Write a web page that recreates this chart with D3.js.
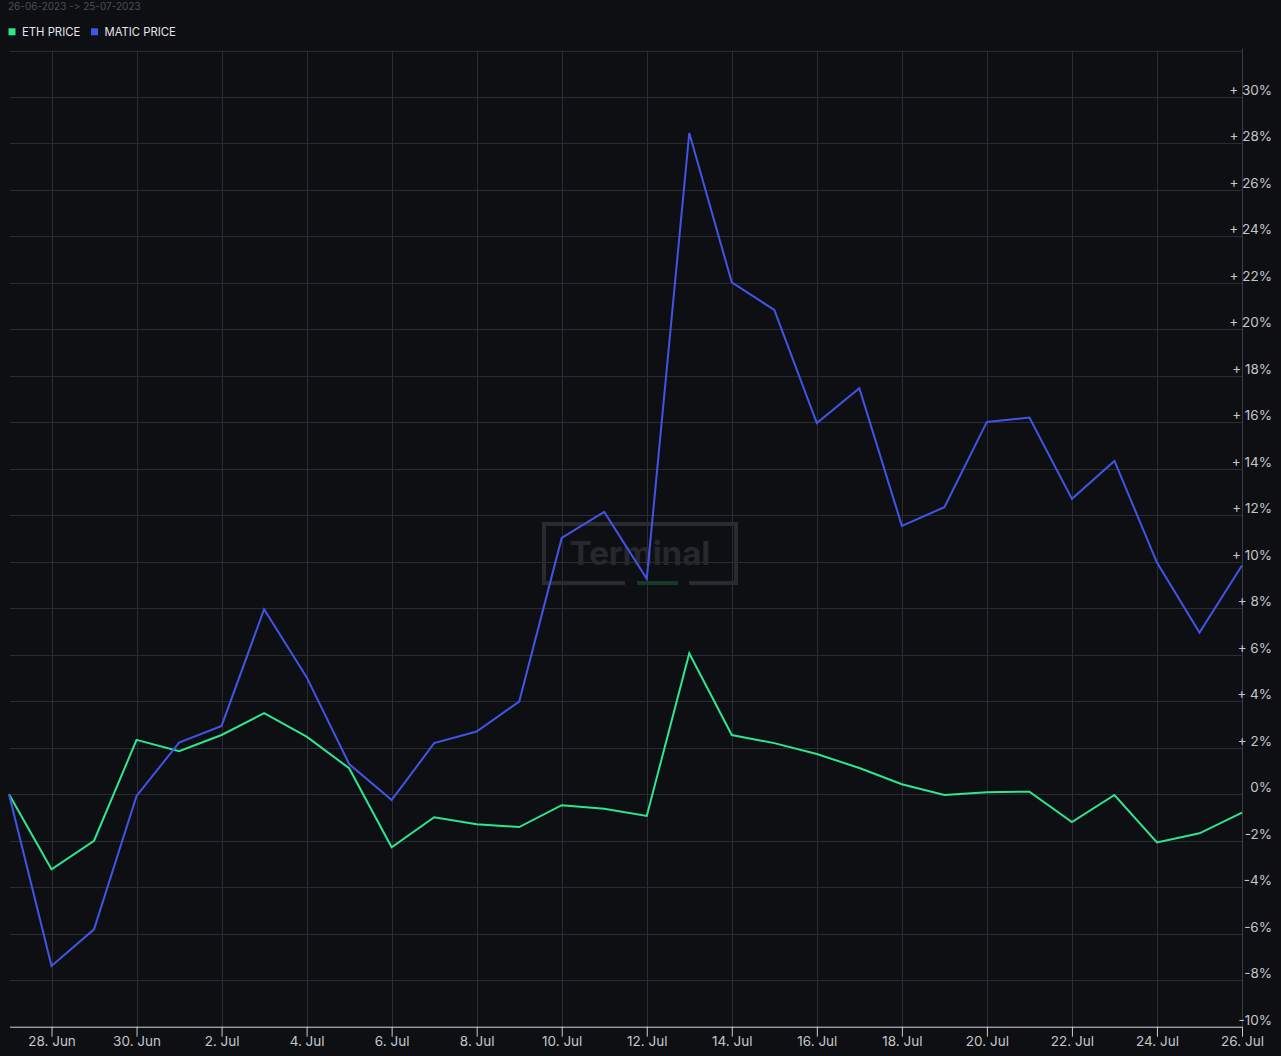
<!DOCTYPE html>
<html>
<head>
<meta charset="utf-8">
<script src="https://cdn.jsdelivr.net/npm/d3@7"></script>
<style>
    html, body { margin: 0; padding: 0; background: #0e0f13; }
    #chart-area { width: 1281px; height: 1056px; }
    text { font-family: Inter, "Noto Sans", sans-serif; }
    .no-calt { font-feature-settings: "calt" 0, "liga" 0; font-variant-ligatures: none; }
</style>
</head>
<body>
<div id="chart-area"></div>
<script>

// daily dates, 27 Jun -> 26 Jul 2023
const dates = ["2023-06-27", "2023-06-28", "2023-06-29", "2023-06-30", "2023-07-01", "2023-07-02",
    "2023-07-03", "2023-07-04", "2023-07-05", "2023-07-06", "2023-07-07", "2023-07-08", "2023-07-09",
    "2023-07-10", "2023-07-11", "2023-07-12", "2023-07-13", "2023-07-14", "2023-07-15", "2023-07-16",
    "2023-07-17", "2023-07-18", "2023-07-19", "2023-07-20", "2023-07-21", "2023-07-22", "2023-07-23",
    "2023-07-24", "2023-07-25", "2023-07-26"];

// % change since start
const ethPrice = [0, -3.23, -2.0, 2.34, 1.85, 2.55, 3.49, 2.48, 1.12, -2.28, -0.99, -1.29, -1.41,
    -0.47, -0.62, -0.93, 6.07, 2.55, 2.2, 1.73, 1.13, 0.43, -0.03, 0.09, 0.11, -1.2, -0.03, -2.07, -1.68, -0.79];

const maticPrice = [0, -7.39, -5.81, -0.07, 2.22, 2.94, 7.96, 5.04, 1.3, -0.25, 2.2, 2.7, 3.99,
    11.03, 12.15, 9.27, 28.45, 22.02, 20.84, 15.97, 17.47, 11.55, 12.35, 16.02, 16.21, 12.71, 14.34, 9.97, 6.96, 9.84];

const seriesNames = ["ETH PRICE", "MATIC PRICE"];
const seriesColors = ["#2ee68f", "#4254e6"];

const xTickDates = ["2023-06-28", "2023-06-30", "2023-07-02", "2023-07-04", "2023-07-06", "2023-07-08",
    "2023-07-10", "2023-07-12", "2023-07-14", "2023-07-16", "2023-07-18", "2023-07-20", "2023-07-22",
    "2023-07-24", "2023-07-26"];
const yTicks = [-10, -8, -6, -4, -2, 0, 2, 4, 6, 8, 10, 12, 14, 16, 18, 20, 22, 24, 26, 28, 30];
const yGridTop = 32;

const dateRangeLabel = "26-06-2023 -> 25-07-2023";

class PriceChart {

    constructor(_parentElement) {
        this.parentElement = _parentElement;
        this.parseDate = d3.utcParse("%Y-%m-%d");

        // one array of {date, value} per series
        this.series = [ethPrice, maticPrice].map((vals, i) => ({
            name: seriesNames[i],
            color: seriesColors[i],
            values: vals.map((v, j) => ({ date: this.parseDate(dates[j]), value: v }))
        }));

        this.initVis();
    }

    initVis() {
        let vis = this;

        vis.width = 1281;
        vis.height = 1056;
        vis.plot = { left: 9, right: 1242, top: 50.5, bottom: 1026.7 };

        vis.svg = d3.select("#" + vis.parentElement).append("svg")
            .attr("width", vis.width)
            .attr("height", vis.height);

        vis.svg.append("rect")
            .attr("width", vis.width)
            .attr("height", vis.height)
            .attr("fill", "#0e0f13");

        vis.x = d3.scaleUtc()
            .domain([vis.parseDate(dates[0]), vis.parseDate(dates[dates.length - 1])])
            .range([vis.plot.left, vis.plot.right]);

        vis.y = d3.scaleLinear()
            .domain([-10, yGridTop])
            .range([vis.plot.bottom, vis.plot.top]);

        // header + legend
        vis.svg.append("text")
            .attr("class", "no-calt")
            .attr("x", 8)
            .attr("y", 9.5)
            .attr("fill", "#4b4e57")
            .attr("font-size", 10)
            .text(dateRangeLabel);

        let legend = vis.svg.append("g").attr("class", "legend");
        let legendX = [8.5, 91];
        vis.series.forEach((s, i) => {
            legend.append("rect")
                .attr("x", legendX[i])
                .attr("y", 28.3)
                .attr("width", 7)
                .attr("height", 7)
                .attr("fill", s.color);
            legend.append("text")
                .attr("x", legendX[i] + 13.5)
                .attr("y", 36)
                .attr("fill", "#e4e5ea")
                .attr("font-size", 11.3)
                .text(s.name);
        });

        // grid
        let grid = vis.svg.append("g").attr("class", "grid");
        grid.selectAll("line.h")
            .data(yTicks.concat([yGridTop]))
            .enter()
            .append("line")
            .attr("class", "h")
            .attr("x1", vis.plot.left + 1)
            .attr("x2", vis.plot.right)
            .attr("y1", d => Math.round(vis.y(d)) + 0.5)
            .attr("y2", d => Math.round(vis.y(d)) + 0.5)
            .attr("stroke", "#2a2c33")
            .attr("stroke-width", 1);

        grid.selectAll("line.v")
            .data(xTickDates.map(d => vis.parseDate(d)))
            .enter()
            .append("line")
            .attr("class", "v")
            .attr("x1", d => Math.round(vis.x(d)) + 0.5)
            .attr("x2", d => Math.round(vis.x(d)) + 0.5)
            .attr("y1", vis.plot.top)
            .attr("y2", vis.plot.bottom)
            .attr("stroke", "#2a2c33")
            .attr("stroke-width", 1);

        // right axis line
        vis.svg.append("line")
            .attr("x1", vis.plot.right + 0.5)
            .attr("x2", vis.plot.right + 0.5)
            .attr("y1", vis.plot.top - 2)
            .attr("y2", vis.plot.bottom)
            .attr("stroke", "#3a3d45");

        // watermark
        let wm = vis.svg.append("g").attr("class", "watermark");
        wm.append("path")
            .attr("d", "M625,583 H544 V524 H736 V583 H689")
            .attr("fill", "none")
            .attr("stroke", "#2a2b30")
            .attr("stroke-width", 4);
        wm.append("rect")
            .attr("x", 637)
            .attr("y", 581)
            .attr("width", 41)
            .attr("height", 4)
            .attr("fill", "#173a28");
        wm.append("text")
            .attr("x", 640)
            .attr("y", 565)
            .attr("text-anchor", "middle")
            .attr("font-size", 33)
            .attr("font-weight", 700)
            .attr("fill", "#27282d")
            .text("Terminal");

        // lines
        vis.line = d3.line()
            .x(d => vis.x(d.date))
            .y(d => vis.y(d.value));

        vis.svg.append("g").attr("class", "lines")
            .selectAll("path")
            .data(vis.series)
            .enter()
            .append("path")
            .attr("d", d => vis.line(d.values))
            .attr("fill", "none")
            .attr("stroke", d => d.color)
            .attr("stroke-width", 2)
            .attr("stroke-linejoin", "miter");

        // x axis
        vis.xAxis = d3.axisBottom(vis.x)
            .tickValues(xTickDates.map(d => vis.parseDate(d)))
            .tickFormat(d3.utcFormat("%-d. %b"))
            .tickSize(10)
            .tickSizeOuter(0);

        let xg = vis.svg.append("g")
            .attr("class", "x-axis")
            .attr("transform", "translate(0," + vis.plot.bottom + ")")
            .call(vis.xAxis);
        xg.select(".domain")
            .attr("stroke", "#c9cbd2")
            .attr("d", "M" + (vis.plot.left + 1) + ",0.5H" + vis.plot.right);
        xg.selectAll(".tick line").attr("stroke", "#c9cbd2");
        xg.selectAll(".tick text")
            .attr("fill", "#c4c6cc")
            .attr("font-size", 13.5)
            .attr("font-family", "Inter, sans-serif")
            .attr("dy", "0.7em")
            .attr("y", 10);

        // y labels (right side, above grid line)
        vis.svg.append("g").attr("class", "y-labels")
            .selectAll("text")
            .data(yTicks)
            .enter()
            .append("text")
            .attr("x", 1272)
            .attr("y", d => vis.y(d) - 2)
            .attr("text-anchor", "end")
            .attr("fill", "#c4c6cc")
            .attr("font-size", 13.5)
            .text(d => (d > 0 ? "+ " : "") + d + "%");
    }
}

new PriceChart("chart-area");

</script>
</body>
</html>
